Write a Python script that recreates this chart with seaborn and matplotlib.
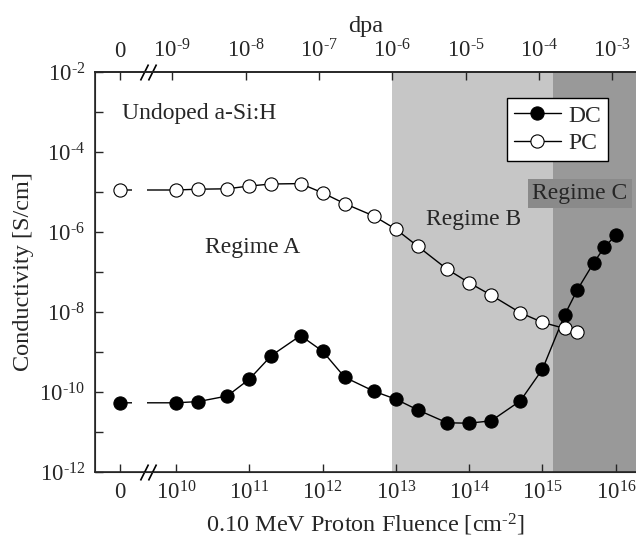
import numpy as np
import pandas as pd
import matplotlib
matplotlib.use("Agg")
import matplotlib.pyplot as plt
import matplotlib.transforms as mtransforms
import seaborn as sns

# ---------------- data ----------------
fluence_dc = [0, 1e10, 2e10, 5e10, 1e11, 2e11, 5e11, 1e12, 2e12, 5e12, 1e13, 2e13,
              5e13, 1e14, 2e14, 5e14, 1e15, 2e15, 3e15, 5e15, 7e15, 1e16]
log_dc = [-10.27, -10.27, -10.24, -10.10, -9.68, -9.09, -8.59, -8.98, -9.63, -9.98,
          -10.18, -10.45, -10.77, -10.78, -10.72, -10.22, -9.43, -8.08, -7.44, -6.77,
          -6.38, -6.08]
fluence_pc = [0, 1e10, 2e10, 5e10, 1e11, 2e11, 5e11, 1e12, 2e12, 5e12, 1e13, 2e13,
              5e13, 1e14, 2e14, 5e14, 1e15, 2e15, 3e15]
log_pc = [-4.95, -4.95, -4.93, -4.92, -4.85, -4.80, -4.79, -5.02, -5.29, -5.60,
          -5.93, -6.36, -6.93, -7.27, -7.58, -8.02, -8.26, -8.41, -8.49]

x_tick_labels = ["0", r"$10^{10}$", r"$10^{11}$", r"$10^{12}$", r"$10^{13}$",
                 r"$10^{14}$", r"$10^{15}$", r"$10^{16}$"]
x_tick_exps = [10, 11, 12, 13, 14, 15, 16]
top_tick_labels = ["0", r"$10^{\text{-}9}$", r"$10^{\text{-}8}$", r"$10^{\text{-}7}$",
                   r"$10^{\text{-}6}$", r"$10^{\text{-}5}$", r"$10^{\text{-}4}$",
                   r"$10^{\text{-}3}$"]
y_tick_exps = [-2, -4, -6, -8, -10, -12]

regime_b_start = 8.85e12
regime_c_start = 1.39e15

# position on the log axis where "0" is drawn
ZERO = 10 ** 9.236

# ---------------- style ----------------
sns.set_style("ticks")
plt.rcParams["font.family"] = ["Liberation Serif", "DejaVu Serif"]
plt.rcParams["mathtext.fontset"] = "custom"
plt.rcParams["mathtext.rm"] = "Liberation Serif"
plt.rcParams["mathtext.it"] = "Liberation Serif:italic"
plt.rcParams["mathtext.bf"] = "Liberation Serif:bold"

fig = plt.figure(figsize=(6.36, 5.48), dpi=100)
ax = fig.add_axes([95 / 636, 1 - 472 / 548, 541 / 636, 400 / 548])

def pos(f):
    return [ZERO if v == 0 else v for v in f]

df_dc = pd.DataFrame({"x": pos(fluence_dc), "y": [10 ** v for v in log_dc]})
df_pc = pd.DataFrame({"x": pos(fluence_pc), "y": [10 ** v for v in log_pc]})

# shaded regimes
ax.axvspan(regime_b_start, regime_c_start, color="#c6c6c6", lw=0, zorder=0)
ax.axvspan(regime_c_start, 10 ** 16.5, color="#999999", lw=0, zorder=0)

sns.lineplot(data=df_dc, x="x", y="y", ax=ax, color="black", lw=1.0,
             marker="o", markersize=9.5, markerfacecolor="black",
             markeredgecolor="black", markeredgewidth=0.8, sort=False,
             estimator=None, label="DC", zorder=3)
sns.lineplot(data=df_pc, x="x", y="y", ax=ax, color="black", lw=1.0,
             marker="o", markersize=9.5, markerfacecolor="white",
             markeredgecolor="black", markeredgewidth=0.8, sort=False,
             estimator=None, label="PC", zorder=3)

ax.set_xscale("log")
ax.set_yscale("log")
ax.set_xlim(10 ** 8.895, 10 ** 16.276)
ax.set_ylim(1e-12, 1e-2)

# gap in the lines at the axis break
ax.axvspan(10 ** 9.40, 10 ** 9.60, ymin=0.05, ymax=0.8, color="white", lw=0, zorder=4)

# ticks
ax.set_xticks([ZERO] + [10 ** e for e in x_tick_exps])
ax.set_xticklabels(x_tick_labels)
ax.xaxis.set_minor_locator(matplotlib.ticker.NullLocator())
ax.set_yticks([10.0 ** e for e in range(-12, -1)])
ax.set_yticklabels([r"$10^{\text{-}%d}$" % (-e) if e in y_tick_exps else ""
                    for e in range(-12, -1)])
ax.yaxis.set_minor_locator(matplotlib.ticker.NullLocator())
ax.tick_params(axis="both", which="major", direction="in", length=6, width=1,
               labelsize=16.5, pad=7)

ax.spines["right"].set_visible(False)
for s in ["left", "bottom", "top"]:
    ax.spines[s].set_linewidth(1.2)

ax.set_xlabel(r"0.10 MeV Proton Fluence [cm$^{\text{-}2}$]", fontsize=17.5, labelpad=5)
ax.set_ylabel("Conductivity [S/cm]", fontsize=17.5, labelpad=4)

# top axis (dpa)
top = ax.twiny()
top.set_xscale("log")
top.set_xlim(ax.get_xlim())
top.set_xticks([ZERO] + [10 ** (e - 0.05) for e in x_tick_exps])
top.set_xticklabels(top_tick_labels)
top.xaxis.set_minor_locator(matplotlib.ticker.NullLocator())
top.tick_params(axis="x", direction="in", length=6, width=1, labelsize=16.5, pad=7)
top.spines["right"].set_visible(False)
top.spines["top"].set_linewidth(1.2)
top.set_xlabel("dpa", fontsize=17.5, labelpad=5)

# axis break marks
for yy in (0, 1):
    tr = mtransforms.blended_transform_factory(ax.transData, ax.transAxes)
    ax.plot([10 ** 9.563, 10 ** 9.673], [yy, yy], transform=tr, ls="none",
            marker=[(-0.5, -1), (0.5, 1)], markersize=11.5, mec="black",
            mew=1.2, clip_on=False, zorder=6)

# legend
leg = ax.legend(loc="upper right", bbox_to_anchor=(0.948, 0.935), borderaxespad=0,
                fontsize=17, frameon=True, fancybox=False, framealpha=1,
                edgecolor="black", handlelength=2.0, handletextpad=0.3,
                borderpad=0.3, labelspacing=0.25)
leg.get_frame().set_linewidth(1.0)

# annotations
ax.text(0.05, 0.8975, "Undoped a-Si:H", transform=ax.transAxes, fontsize=17,
        ha="left", va="center")
ax.text(0.292, 0.56, "Regime A", transform=ax.transAxes, fontsize=17,
        ha="center", va="center")
ax.text(0.699, 0.63, "Regime B", transform=ax.transAxes, fontsize=17,
        ha="center", va="center")
ax.text(0.896, 0.696, "Regime C", transform=ax.transAxes, fontsize=17,
        ha="center", va="center",
        bbox=dict(facecolor="#8a8a8a", edgecolor="none", pad=3))

fig.savefig("out.png", dpi=100)
